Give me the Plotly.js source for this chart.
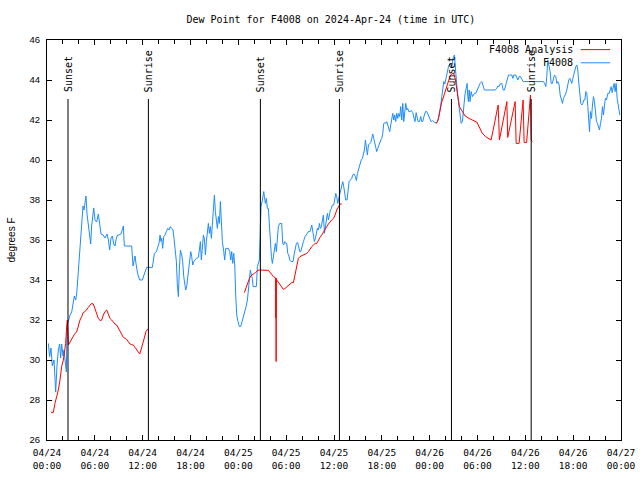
<!DOCTYPE html>
<html>
<head>
<meta charset="utf-8">
<script src="https://cdn.plot.ly/plotly-3.0.1.min.js"></script>
<style>html,body{margin:0;padding:0;background:#fff;}#chart{width:640px;height:480px;}</style>
</head>
<body>
<div id="chart"></div>
<script>
// Hours since 2024-04-24 00:00 UTC
const obsHours = [0.17,0.33,0.50,0.67,0.88,1.09,1.25,1.42,1.59,1.71,1.84,2.01,2.13,2.26,2.43,2.51,2.68,2.89,3.10,3.26,3.43,3.60,3.72,3.85,4.02,4.18,4.35,4.52,4.64,4.77,4.89,5.02,5.19,5.35,5.48,5.60,5.77,5.86,6.02,6.23,6.44,6.61,6.78,7.03,7.28,7.53,7.70,7.86,8.03,8.20,8.36,8.53,8.70,8.87,9.03,9.28,9.45,9.58,9.70,10.62,10.79,11.04,11.17,11.38,11.63,11.96,12.21,12.51,13.22,
13.34,13.47,13.72,13.89,14.05,14.18,14.30,14.39,14.51,14.64,14.81,14.97,15.14,15.31,15.47,15.64,15.81,15.93,16.06,16.23,16.35,16.48,16.60,16.73,16.90,17.02,17.15,17.27,17.40,17.52,17.65,17.78,17.90,18.03,18.15,18.28,18.40,18.57,18.74,18.99,19.11,19.24,19.36,19.49,19.62,19.74,19.87,19.99,20.12,20.24,20.37,20.49,20.62,20.74,20.87,21.00,21.12,21.25,21.37,21.50,21.62,21.75,21.87,22.00,22.17,22.29,22.42,22.75,22.92,23.05,23.17,23.30,23.42,23.55,23.67,23.80,23.96,24.13,24.30,24.47,24.63,24.80,24.97,25.14,25.26,25.39,25.51,25.64,25.76,25.85,26.26,26.39,26.52,26.64,26.77,26.85,27.02,27.19,
27.27,27.39,27.52,27.64,27.77,27.90,28.02,28.15,28.27,28.40,28.52,28.65,28.77,28.90,29.02,29.19,29.44,29.57,29.69,29.82,29.95,30.07,30.20,30.32,30.45,30.61,30.87,30.99,31.12,31.28,31.45,31.58,31.70,31.83,31.95,32.16,32.37,32.58,32.79,33.00,33.21,33.38,33.54,33.67,33.79,33.92,34.04,34.17,34.29,34.42,34.55,34.67,34.80,34.92,35.05,35.17,35.30,35.42,35.55,35.68,35.80,35.97,36.09,36.22,36.34,36.47,36.60,36.72,36.85,36.97,37.10,37.22,37.35,37.47,37.64,37.77,37.89,38.06,38.23,
38.35,38.52,38.69,38.81,38.94,39.06,39.19,39.31,39.44,39.56,39.69,39.82,39.94,40.07,40.19,40.32,40.44,40.61,40.74,40.86,40.99,41.11,41.24,41.36,41.49,41.61,41.74,41.87,41.99,42.12,42.24,42.37,42.49,42.62,42.74,42.87,42.99,43.12,43.25,43.37,43.50,43.62,43.75,43.87,44.00,44.12,44.25,44.37,44.50,44.63,44.75,44.88,45.00,45.13,45.25,45.38,45.55,45.71,45.88,46.05,46.17,46.30,46.42,46.55,46.72,46.88,47.01,47.13,47.30,47.47,47.64,47.76,47.89,48.06,48.18,48.35,48.47,48.64,48.81,48.98,49.14,49.27,49.39,49.52,49.64,49.77,49.90,
50.15,50.36,50.56,50.77,50.98,51.11,51.28,51.40,51.53,51.69,51.82,51.95,52.11,52.24,52.36,52.45,52.57,52.70,52.78,52.86,52.95,53.07,53.20,53.37,53.49,53.62,53.78,53.95,54.12,54.33,54.54,54.75,54.87,56.21,56.42,56.55,56.71,56.84,57.05,57.21,57.38,57.55,57.72,57.88,58.30,58.43,58.55,58.80,59.06,59.22,59.39,59.56,59.72,61.23,62.27,
62.40,62.57,62.69,62.82,62.99,63.11,63.24,63.40,63.53,63.65,63.82,63.95,64.07,64.24,64.37,64.49,64.66,64.78,64.91,65.08,65.20,65.33,65.45,65.58,65.70,65.83,65.96,66.08,66.21,66.33,66.46,66.58,66.71,66.83,66.96,67.09,67.21,67.34,67.46,67.59,67.71,67.84,67.96,68.05,68.17,68.30,68.42,68.55,68.67,68.80,68.93,69.05,69.18,69.30,69.43,69.55,69.68,69.80,69.93,70.05,70.18,70.35,70.51,70.64,70.77,70.89,71.02,71.14,71.27,71.39,71.52,71.64,71.77,71.85];
const obsDew = [30.83,30.17,30.6,29.7,30.0,28.4,29.7,30.5,30.8,30.1,30.8,30.2,30.5,29.9,29.4,31.7,32.0,32.25,32.4,32.8,33.2,33.0,33.3,34.0,35.0,35.7,37.2,37.7,37.5,38.0,38.2,37.3,36.7,36.0,35.8,36.7,37.2,37.6,37.0,36.9,37.3,36.8,36.3,36.25,36.1,36.3,36.0,35.5,36.1,36.2,35.8,35.7,36.1,36.25,36.25,36.3,36.6,36.7,35.7,35.7,34.7,35.2,34.8,34.3,34.0,34.0,34.3,34.63,34.63,
35.08,35.33,35.42,35.67,35.83,36.25,35.92,36.08,35.58,36.17,36.25,36.42,36.58,36.5,36.67,36.58,36.5,36.08,35.67,34.92,33.75,33.17,34.5,35.5,35.25,34.92,34.17,33.67,33.5,33.67,34.17,34.75,34.92,35.42,35.17,34.75,34.92,35.0,35.08,35.13,35.42,35.92,35.0,35.58,36.25,36.08,35.25,35.92,36.33,36.83,36.33,36.67,36.08,36.83,37.75,38.25,37.42,36.83,36.58,37.17,36.83,37.92,36.67,35.92,35.42,35.0,35.58,35.58,35.42,35.0,35.42,34.83,35.33,34.75,33.25,32.25,31.92,31.67,31.67,31.92,32.17,32.33,32.67,33.0,33.5,34.0,34.5,34.25,34.08,33.67,33.67,34.67,34.92,35.0,36.67,37.67,38.0,38.42,
38.17,37.83,38.08,37.58,37.58,36.67,35.83,35.17,34.83,35.17,35.5,35.83,35.42,36.17,36.67,36.83,36.83,35.83,35.75,35.92,35.83,35.83,35.33,35.25,35.0,34.92,34.92,35.25,35.5,35.83,35.87,35.7,35.42,35.42,35.67,35.92,36.17,36.33,36.42,36.42,36.75,36.33,35.92,36.08,36.33,36.58,36.5,36.83,36.58,36.67,37.0,37.25,36.33,36.75,37.08,37.33,37.0,37.25,37.5,37.58,37.75,37.75,38.08,38.33,38.17,37.83,38.08,38.25,38.5,38.67,38.92,38.67,38.25,38.0,38.0,38.5,38.92,39.0,39.08,
39.25,39.3,39.17,38.97,39.33,39.5,39.7,39.83,40.03,40.08,40.33,40.5,41.0,40.58,40.25,40.75,40.83,40.87,41.08,41.3,41.08,40.83,40.58,40.42,40.58,40.75,40.87,41.0,41.08,41.33,41.83,41.87,41.83,41.92,41.75,41.58,41.42,41.75,42.0,42.33,42.0,42.25,41.92,42.33,42.08,42.33,42.17,42.67,42.0,42.83,41.92,42.42,42.83,42.5,42.58,42.42,42.42,42.47,42.37,42.08,41.92,42.37,42.08,41.92,41.92,42.17,41.92,41.92,42.2,42.42,42.42,42.3,42.17,42.0,41.92,41.97,41.92,41.87,41.87,41.92,42.17,42.42,42.75,43.17,43.67,43.92,43.8,
44.33,44.67,44.83,44.67,45.17,45.25,44.33,43.5,43.17,42.67,42.17,41.83,41.92,42.33,43.0,43.33,43.58,43.83,43.17,42.92,43.5,42.92,43.42,43.17,43.25,43.33,43.33,43.5,43.67,43.83,43.92,43.67,43.5,43.5,43.58,43.7,43.67,43.8,43.83,43.5,43.5,43.75,44.08,44.25,44.25,44.08,44.25,44.25,44.0,44.17,44.17,44.0,43.92,43.92,43.92,
43.83,43.67,44.17,45.0,44.67,44.42,43.83,43.83,44.08,44.25,44.17,43.83,43.92,43.75,43.25,43.08,42.83,43.08,43.17,43.33,43.5,43.83,44.0,44.08,43.92,43.83,44.08,44.33,44.58,44.67,44.75,44.5,43.83,43.08,42.83,42.75,42.83,43.0,43.0,43.42,43.33,42.67,42.0,41.42,42.42,42.08,42.75,43.17,42.92,42.25,41.92,41.83,41.58,41.5,41.83,42.08,42.67,42.25,42.75,43.08,43.0,43.33,43.33,43.5,43.67,43.37,43.67,43.83,43.42,43.83,43.08,42.75,42.5,42.25];

// Analysis series (null marks gaps between runs)
const anaHours = [0.50,0.79,1.00,1.21,1.42,1.63,1.84,2.05,2.17,2.34,2.47,2.55,2.68,2.89,3.10,3.30,3.51,3.72,3.93,4.14,4.35,4.56,4.77,4.98,5.19,5.40,5.60,5.81,6.02,6.23,6.44,6.65,6.86,7.07,7.28,7.49,7.70,7.90,8.11,8.32,8.53,8.74,8.95,9.16,9.37,9.58,9.79,10.00,10.20,10.41,10.62,10.83,11.04,11.25,11.46,11.63,11.79,12.00,12.21,12.42,12.63,
18.0,
24.76,24.93,25.10,25.26,25.39,25.55,25.68,25.85,26.01,26.18,26.39,26.60,27.77,28.40,28.69,28.70,28.72,28.74,28.76,28.82,29.23,29.65,29.86,30.28,30.70,30.91,31.12,31.33,31.53,31.74,32.16,32.58,32.79,33.00,33.21,33.42,33.63,33.84,34.04,34.25,34.46,34.67,34.88,35.09,35.30,35.51,35.72,35.93,36.14,36.34,36.55,36.76,36.97,
42.0,
48.77,48.93,49.10,49.31,49.52,49.73,49.94,50.15,50.36,50.56,50.77,50.98,51.19,51.40,51.61,51.73,52.03,52.45,53.07,53.91,54.16,54.58,55.00,55.40,55.71,56.59,56.69,56.75,57.68,57.79,58.72,58.85,59.22,59.72,59.85,60.16,60.64,60.73,60.89];
const anaDew = [27.38,27.38,27.83,28.17,28.5,29.0,29.67,30.0,30.33,30.83,31.67,32.0,30.75,30.9,31.1,31.25,31.33,31.4,31.75,32.0,32.17,32.38,32.42,32.5,32.63,32.75,32.83,32.8,32.58,32.33,32.08,31.97,32.0,32.25,32.42,32.5,32.25,32.08,32.0,31.87,31.8,31.75,31.58,31.42,31.25,31.13,31.08,31.03,30.92,30.8,30.77,30.75,30.63,30.53,30.42,30.3,30.5,30.83,31.17,31.42,31.55,
null,
33.37,33.58,33.75,33.92,34.08,34.2,34.25,34.28,34.33,34.37,34.47,34.5,34.48,34.17,34.1,32.1,34.1,29.92,34.05,34.0,33.75,33.53,33.58,33.75,33.87,33.87,34.33,34.67,35.08,35.17,35.25,35.33,35.42,35.58,35.67,35.75,35.83,35.83,36.0,36.13,36.25,36.37,36.5,36.67,36.8,36.92,37.0,37.08,37.25,37.5,37.67,37.8,37.8,
null,
41.83,41.87,42.07,42.5,42.9,43.15,43.4,43.7,43.95,44.2,44.3,44.35,44.1,43.42,43.0,42.67,42.5,42.2,42.05,41.9,41.7,41.35,41.17,41.05,41.0,42.75,41.05,41.0,42.92,41.13,42.92,40.83,40.83,43.0,40.87,40.87,43.25,41.0,40.92];

const seriesNames = ['F4008 Analysis', 'F4008'];
const seriesColors = ['#ff0000', '#1e8cff'];

const sunLabels = ['Sunset','Sunrise','Sunset','Sunrise','Sunset','Sunrise'];
const sunTimes = ['2024-04-24 02:38','2024-04-24 12:43','2024-04-25 02:46','2024-04-25 12:41','2024-04-26 02:44','2024-04-26 12:44'];

const tickHours = [0,6,12,18,24,30,36,42,48,54,60,66,72];
const tickLabels = ['04/24<br>00:00','04/24<br>06:00','04/24<br>12:00','04/24<br>18:00','04/25<br>00:00','04/25<br>06:00','04/25<br>12:00','04/25<br>18:00','04/26<br>00:00','04/26<br>06:00','04/26<br>12:00','04/26<br>18:00','04/27<br>00:00'];

const START = Date.UTC(2024, 3, 24, 0, 0, 0);
function hToStr(h) {
  return new Date(START + Math.round(h * 3600000)).toISOString().slice(0, 19).replace('T', ' ');
}

const mono = 'DejaVu Sans Mono, Liberation Mono, monospace';
const sans = 'Liberation Sans, Arial, sans-serif';

const traces = [
  {x: obsHours.map(hToStr), y: obsDew, type: 'scatter', mode: 'lines', name: seriesNames[1],
   line: {color: seriesColors[1], width: 1}, connectgaps: false, showlegend: false, hoverinfo: 'x+y'},
  {x: anaHours.map(hToStr), y: anaDew, type: 'scatter', mode: 'lines', name: seriesNames[0],
   line: {color: seriesColors[0], width: 1}, connectgaps: false, showlegend: false, hoverinfo: 'x+y'}
];

const shapes = [];
const annotations = [];
sunTimes.forEach((t, i) => {
  shapes.push({type: 'line', xref: 'x', yref: 'y', x0: t, x1: t, y0: 26, y1: 43.05,
               line: {color: '#000', width: 1}, layer: 'above'});
  annotations.push({xref: 'x', yref: 'y', x: t, y: 43.35, text: sunLabels[i], textangle: -90,
                    showarrow: false, xanchor: 'center', yanchor: 'bottom', borderpad: 0,
                    font: {family: mono, size: 10, color: '#000'}});
});

// gnuplot-style key: text then sample line, top right inside the frame
const keyY = [0.976, 0.943];
[0, 1].forEach(i => {
  annotations.push({xref: 'paper', yref: 'paper', x: 0.918, y: keyY[i], text: seriesNames[i],
                    showarrow: false, xanchor: 'right', yanchor: 'middle', borderpad: 0,
                    font: {family: mono, size: 10, color: '#000'}});
  shapes.push({type: 'line', xref: 'paper', yref: 'paper', x0: 0.930, x1: 0.981, y0: keyY[i], y1: keyY[i],
               line: {color: seriesColors[i], width: 1}});
});

const layout = {
  width: 640, height: 480,
  margin: {l: 47, r: 19, t: 40, b: 40, pad: 0},
  paper_bgcolor: '#fff', plot_bgcolor: '#fff',
  title: {text: 'Dew Point for F4008 on 2024-Apr-24 (time in UTC)', font: {family: mono, size: 10, color: '#000'},
          x: 0.517, xanchor: 'center', xref: 'container', y: 0.96, yanchor: 'middle', yref: 'container'},
  showlegend: false,
  xaxis: {type: 'date', range: [hToStr(0), hToStr(72)], tickmode: 'array',
          tickvals: tickHours.map(hToStr), ticktext: tickLabels,
          ticks: 'inside', ticklen: 5, tickcolor: '#000', tickwidth: 1,
          minor: {dtick: 2 * 3600000, ticks: 'inside', ticklen: 4, tickcolor: '#000', tickwidth: 1, showgrid: false},
          showline: true, linecolor: '#000', linewidth: 1, mirror: 'ticks', showgrid: false, zeroline: false,
          ticklabelstandoff: 4,
          tickfont: {family: mono, size: 9.5, color: '#000'}},
  yaxis: {range: [26, 46], dtick: 2, tick0: 26, ticks: 'inside', ticklen: 5, tickcolor: '#000', tickwidth: 1,
          showline: true, linecolor: '#000', linewidth: 1, mirror: 'ticks', showgrid: false, zeroline: false,
          tickfont: {family: sans, size: 9.5, color: '#000'}, ticklabelstandoff: 4,
          title: {text: 'degrees F', font: {family: sans, size: 10, color: '#000'}, standoff: 12}},
  shapes: shapes,
  annotations: annotations
};

Plotly.newPlot('chart', traces, layout, {displayModeBar: false, staticPlot: true});
</script>
</body>
</html>
